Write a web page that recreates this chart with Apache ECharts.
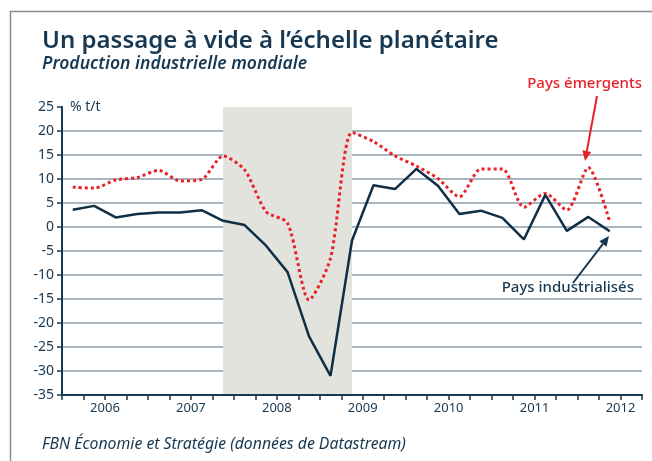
<!DOCTYPE html>
<html>
<head>
<meta charset="utf-8">
<script src="https://cdn.jsdelivr.net/npm/echarts@6/dist/echarts.min.js"></script>
<style>
  html, body { margin: 0; padding: 0; background: #fff; }
  #container { width: 652px; height: 461px; }
</style>
</head>
<body>
<div id="container"></div>
<script>
var years = ['2006', '2007', '2008', '2009', '2010', '2011', '2012'];

// trimestres 2006T1 .. 2012T3 (le dernier reste vide)
var quarters = [];
years.forEach(function (y) {
    ['T1', 'T2', 'T3', 'T4'].forEach(function (q) { quarters.push(y + q); });
});
quarters = quarters.slice(0, 27);

// % t/t
var industrialises = [3.6, 4.4, 2.0, 2.7, 3.0, 3.0, 3.5, 1.3, 0.4, -3.9, -9.4, -22.8, -31.0,
    -2.8, 8.7, 7.9, 12.1, 8.6, 2.7, 3.4, 1.9, -2.6, 6.7, -0.8, 2.1, -0.9];
var emergents = [8.3, 8.1, 9.8, 10.3, 11.8, 9.6, 9.9, 14.8, 11.9, 3.2, 0.8, -15.2, -6.5,
    19.7, 17.8, 14.8, 12.7, 10.1, 6.3, 12.1, 12.1, 4.1, 7.0, 3.5, 12.4, 1.0];

// recession grisee
var shadeFrom = '2007T4';
var shadeTo = '2009T2';

// labels des annees au milieu de chaque annee (sur les bornes de trimestres)
var yearTicks = [];
for (var i = 0; i <= quarters.length; i++) {
    yearTicks.push(i % 4 === 2 ? years[(i - 2) / 4] : '');
}

var navy = '#163852';
var red = '#e8202a';
var font = 'Noto Sans';

// grille : pas de ligne en haut (25)
var gridColors = [];
for (var k = 0; k < 12; k++) gridColors.push('#a9b5bf');
gridColors.push('rgba(0,0,0,0)');

function arrow(x1, y1, x2, y2, color) {
    var a = Math.atan2(y2 - y1, x2 - x1);
    var len = 10, w = 4.5;
    var bx = x2 - len * Math.cos(a), by = y2 - len * Math.sin(a);
    var px = -Math.sin(a) * w, py = Math.cos(a) * w;
    return [
        { type: 'line', shape: { x1: x1, y1: y1, x2: bx, y2: by }, style: { stroke: color, lineWidth: 2 }, z: 100 },
        { type: 'polygon', shape: { points: [[x2, y2], [bx + px, by + py], [bx - px, by - py]] },
          style: { fill: color }, z: 100 }
    ];
}

var myChart = echarts.init(document.getElementById('container'));

var option = {
    animation: false,
    backgroundColor: '#fff',
    textStyle: { fontFamily: font },
    grid: { left: 62, right: 10, top: 107, bottom: 66 },
    xAxis: [
        {
            type: 'category',
            data: quarters,
            boundaryGap: true,
            z: 1,
            axisLine: { onZero: false, lineStyle: { color: navy, width: 2 } },
            axisTick: { show: true, interval: 0, length: 5, lineStyle: { color: navy, width: 1.5 } },
            axisLabel: { show: false },
            splitLine: { show: false }
        },
        {
            type: 'category',
            data: yearTicks,
            boundaryGap: false,
            position: 'bottom',
            z: 1,
            axisLine: { show: false, onZero: false },
            axisTick: { show: false },
            axisLabel: { interval: 0, color: navy, fontSize: 13, margin: 7, fontFamily: font },
            splitLine: { show: false }
        }
    ],
    yAxis: {
        type: 'value',
        min: -35,
        max: 25,
        interval: 5,
        z: 1,
        axisLine: { show: true, lineStyle: { color: navy, width: 2 } },
        axisTick: { show: true, length: 5, lineStyle: { color: navy, width: 1.5 } },
        axisLabel: { color: navy, fontSize: 14, margin: 8, fontFamily: font },
        splitLine: { show: true, lineStyle: { color: gridColors, width: 2 } }
    },
    series: [
        {
            name: 'recession',
            type: 'line',
            data: [],
            z: -1,
            markArea: {
                silent: true,
                itemStyle: { color: '#e3e3dd' },
                data: [[{ xAxis: shadeFrom, yAxis: 25 }, { xAxis: shadeTo, yAxis: -35 }]]
            }
        },
        {
            name: 'Pays émergents',
            type: 'line',
            data: emergents,
            smooth: 0.25,
            symbol: 'none',
            z: 3,
            lineStyle: { color: red, width: 3, type: [3, 3] }
        },
        {
            name: 'Pays industrialisés',
            type: 'line',
            data: industrialises,
            symbol: 'none',
            z: 4,
            lineStyle: { color: '#0f2f47', width: 2.5 }
        }
    ],
    graphic: [
        { type: 'rect', shape: { x: 10.5, y: 11.5, width: 700, height: 500 },
          style: { fill: 'none', stroke: '#8c8c8c', lineWidth: 1.5 } },
        { type: 'text', left: 42, top: 29,
          style: { text: 'Un passage à vide à l\u2019échelle planétaire', fill: navy,
                   font: '600 24px "Noto Sans"' } },
        { type: 'text', left: 42, top: 55,
          style: { text: 'Production industrielle mondiale', fill: navy,
                   font: 'italic 600 17.5px "Noto Sans"' } },
        { type: 'text', left: 70, top: 100,
          style: { text: '% t/t', fill: navy, font: '14px "Noto Sans"' } },
        { type: 'text', right: 10, top: 76,
          style: { text: 'Pays émergents', fill: red, font: '500 15px "Noto Sans"' } },
        { type: 'text', right: 18, top: 280,
          style: { text: 'Pays industrialisés', fill: navy, font: '500 15px "Noto Sans"' } },
        { type: 'text', left: 42, top: 436,
          style: { text: 'FBN Économie et Stratégie (données de Datastream)', fill: navy,
                   font: 'italic 15.8px "Noto Sans"' } }
    ].concat(arrow(597, 96, 585, 161, red)).concat(arrow(573, 283, 609, 236, navy))
};

myChart.setOption(option);
</script>
</body>
</html>
